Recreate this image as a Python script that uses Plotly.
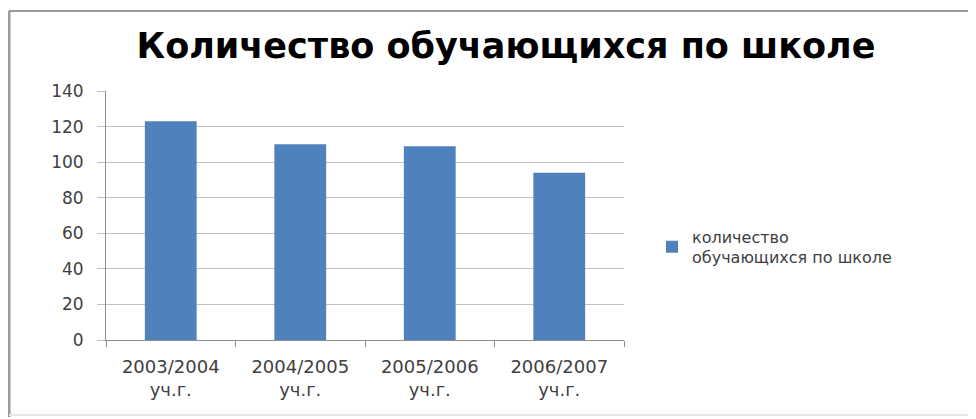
import plotly.graph_objects as go

categories = ["2003/2004<br>уч.г.", "2004/2005<br>уч.г.", "2005/2006<br>уч.г.", "2006/2007<br>уч.г."]
values = [123, 110, 109, 94]
series_name = "количество<br>обучающихся по школе"
title_text = "Количество обучающихся по школе"
y_ticks = [0, 20, 40, 60, 80, 100, 120, 140]

# page body has an 8px margin; figure pixel = screen pixel - 8
OFF = 8
W, H = 968, 411
L, T = 106 - OFF, 91 - OFF
R = W - (624 - OFF)
B = H - (340 - OFF)
pw = W - L - R
ph = H - T - B

def px_x(sx):
    return (sx - OFF - L) / pw

def px_y(sy):
    return (H - B - (sy - OFF)) / ph

fig = go.Figure()
fig.add_trace(go.Bar(
    x=categories, y=values, name=series_name,
    marker=dict(color="#4F81BD", line=dict(width=0)),
    showlegend=True,
))

frame = dict(type="line", xref="paper", yref="paper")
fig.update_layout(
    width=W, height=H,
    margin=dict(l=L, r=R, t=T, b=B),
    paper_bgcolor="white", plot_bgcolor="white",
    bargap=0.6,
    font=dict(family="DejaVu Sans", size=17, color="#404040"),
    title=dict(text=title_text, x=(506 - OFF) / W, xanchor="center", y=1 - (46 - OFF) / H, yanchor="middle",
               font=dict(family="DejaVu Sans", size=35, color="#000000", weight="bold")),
    xaxis=dict(showline=True, linecolor="#8c8c8c", linewidth=1, ticks="outside", ticklen=6,
               tickcolor="#8c8c8c", tickson="boundaries", showgrid=False, ticklabelstandoff=10,
               tickfont=dict(size=18, color="#404040")),
    yaxis=dict(range=[0, 140], tickvals=y_ticks, showline=True, linecolor="#8c8c8c", linewidth=1,
               ticks="outside", ticklen=8, tickcolor="#bfbfbf", showgrid=True, gridcolor="#c0c0c0",
               gridwidth=1, zeroline=False, ticklabelstandoff=10,
               tickfont=dict(size=17, color="#404040")),
    legend=dict(x=px_x(652), xanchor="left", y=px_y(247), yanchor="middle",
                font=dict(size=16, color="#404040"), itemwidth=30, bgcolor="rgba(0,0,0,0)"),
    shapes=[
        dict(frame, x0=px_x(9), x1=px_x(1000), y0=px_y(11), y1=px_y(11), line=dict(color="#9a9a9a", width=2)),
        dict(frame, x0=px_x(9), x1=px_x(9), y0=px_y(11), y1=px_y(417), line=dict(color="#9a9a9a", width=3)),
        dict(frame, x0=px_x(9), x1=px_x(1000), y0=px_y(415), y1=px_y(415), line=dict(color="#e6e6e6", width=2)),
    ],
)

fig.write_html("out.html")
